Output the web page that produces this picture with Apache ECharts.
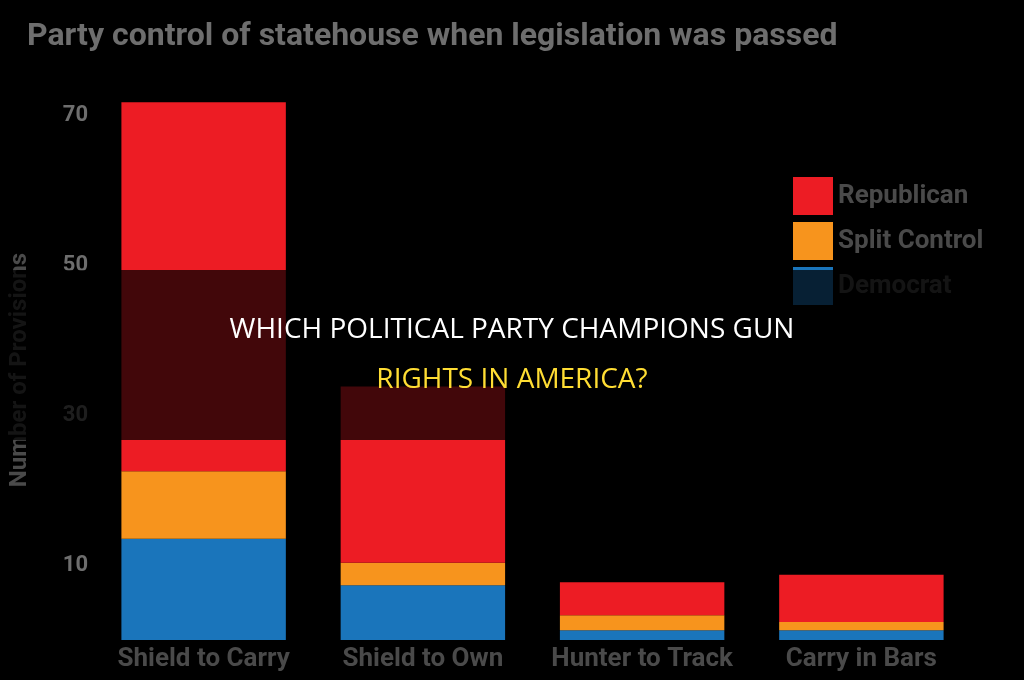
<!DOCTYPE html>
<html>
<head>
<meta charset="utf-8">
<script src="https://cdn.jsdelivr.net/npm/echarts@6/dist/echarts.min.js"></script>
<style>
  html, body { margin: 0; padding: 0; background: #000; }
  #chart { width: 1024px; height: 680px; }
</style>
</head>
<body>
<div id="chart"></div>
<script>
// categories and values
var categories = ['Shield to Carry', 'Shield to Own', 'Hunter to Track', 'Carry in Bars'];
var democrat = [13.5, 7.3, 1.3, 1.3];
var splitControl = [9, 3, 2, 1.1];
var republican = [49.2, 23.5, 4.4, 6.3];
var tickLabels = ['10', '30', '50', '70'];

var font = '"Liberation Sans Narrow", "Roboto", sans-serif';

var chart = echarts.init(document.getElementById('chart'));

var option = {
  backgroundColor: '#000',
  title: {
    text: 'Party control of statehouse when legislation was passed',
    left: 22, top: 16,
    textStyle: { color: '#6e6e6e', fontSize: 32, fontWeight: 'bold', fontFamily: font }
  },
  legend: {
    data: ['Republican', 'Split Control', 'Democrat'],
    orient: 'vertical',
    left: 788, top: 172,
    icon: 'rect',
    itemWidth: 40, itemHeight: 38, itemGap: 7,
    textStyle: { color: '#4a4a4a', fontSize: 26, fontWeight: 'bold', fontFamily: font }
  },
  grid: { left: 93, right: 53, top: 100, bottom: 40 },
  xAxis: {
    type: 'category',
    data: categories,
    axisLine: { show: false },
    axisTick: { show: false },
    axisLabel: { interval: 0, color: '#4a4a4a', fontSize: 26, fontWeight: 'bold', fontFamily: font, margin: 6 }
  },
  yAxis: {
    type: 'value',
    min: 0, max: 72, interval: 10,
    name: 'Number of Provisions',
    nameLocation: 'middle',
    nameGap: 62,
    nameRotate: 90,
    nameTextStyle: { color: '#4a4a4a', fontSize: 24, fontWeight: 'bold', fontFamily: font },
    splitLine: { show: false },
    axisLine: { show: false },
    axisTick: { show: false },
    axisLabel: {
      color: '#6e6e6e', fontSize: 22, fontWeight: 'bold', fontFamily: font, margin: 6,
      formatter: function (v) {
        return tickLabels.indexOf(String(v)) >= 0 ? String(v) : '';
      }
    }
  },
  series: [
    { name: 'Democrat', type: 'bar', stack: 'a', barWidth: '75%', data: democrat, itemStyle: { color: '#1a75bb' } },
    { name: 'Split Control', type: 'bar', stack: 'a', data: splitControl, itemStyle: { color: '#f7941d' } },
    { name: 'Republican', type: 'bar', stack: 'a', data: republican, itemStyle: { color: '#ed1c24' } }
  ],
  graphic: [
    {
      type: 'rect', left: 0, top: 270, z: 100,
      shape: { width: 1024, height: 170 },
      style: { fill: 'rgba(0,0,0,0.72)' }
    },
    {
      type: 'text', left: 'center', top: 316, z: 101,
      style: { text: 'WHICH POLITICAL PARTY CHAMPIONS GUN', fill: '#fff', fontSize: 28, fontFamily: '"Open Sans", sans-serif' }
    },
    {
      type: 'text', left: 'center', top: 366, z: 101,
      style: { text: 'RIGHTS IN AMERICA?', fill: '#ffdd33', fontSize: 28, fontFamily: '"Open Sans", sans-serif' }
    }
  ]
};

chart.setOption(option);
</script>
</body>
</html>
